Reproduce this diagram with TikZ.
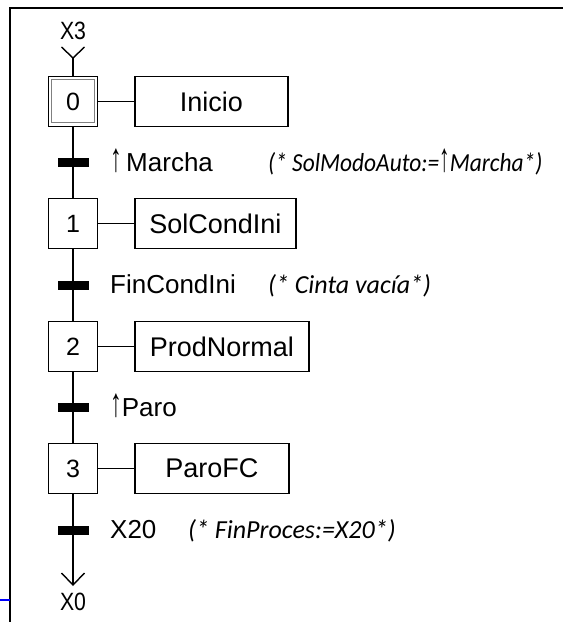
\documentclass[tikz,border=0pt]{standalone}
\usepackage{fontspec}
\setmainfont{Liberation Sans}
\newfontfamily\cmtfont{Carlito}
\usetikzlibrary{calc}
\newcommand{\uparr}{{\upshape\rmfamily\scalebox{0.9}[1.55]{↑}}}
\begin{document}
\begin{tikzpicture}[x=1pt,y=-1pt,
  stepbox/.style={draw,line width=1.6pt,minimum width=49pt,minimum height=50pt,inner sep=0pt,font=\fontsize{25}{30}\selectfont},
  actbox/.style={draw,line width=1.6pt,minimum height=50pt,inner sep=0pt,anchor=west,font=\fontsize{27}{32}\selectfont},
  tbar/.style={fill=black,minimum width=31pt,minimum height=9pt,inner sep=0pt},
  tlabel/.style={anchor=base west,inner sep=0pt,font=\fontsize{26}{30}\selectfont},
  cmt/.style={anchor=base west,inner sep=0pt,font=\cmtfont\itshape\fontsize{26}{30}\selectfont},
  conn/.style={line width=1.4pt},
  xlab/.style={inner sep=0pt,font=\fontsize{25}{30}\selectfont},
  ]
\useasboundingbox (0,0) rectangle (563,622);
% frame
\draw[line width=1.8pt] (10,622) -- (10,8) -- (563,8);
\draw[blue,line width=1.5pt] (0,600) -- (10,600);
% steps
\node[stepbox] (s0) at (73,101.5) {0};
\draw[gray,line width=1pt] ($(s0.south west)+(4,-5)$) rectangle ($(s0.north east)+(-4,4)$);
\node[stepbox] (s1) at (73,223.5) {1};
\node[stepbox] (s2) at (73,346.5) {2};
\node[stepbox] (s3) at (73,468.5) {3};
% actions
\node[actbox,minimum width=153pt] (a0) at (134,101.5) {Inicio};
\node[actbox,minimum width=161pt] (a1) at (134,223.5) {SolCondIni};
\node[actbox,minimum width=174pt] (a2) at (134,346.5) {ProdNormal};
\node[actbox,minimum width=154pt] (a3) at (134,468.5) {ParoFC};
\foreach \i in {0,1,2,3}{\draw[conn] (s\i.east) -- (a\i.west);}
% transitions
\node[tbar] (t1) at (73,162.5) {};
\node[tbar] (t2) at (73,285) {};
\node[tbar] (t3) at (73,407.5) {};
\node[tbar] (t4) at (73,530) {};
\draw[conn] (s0) -- (s1);
\draw[conn] (s1) -- (s2);
\draw[conn] (s2) -- (s3);
% labels
\node[tlabel] (l1) at (110,171) {\uparr\,Marcha};
\node[cmt] (c1) at (268,171) {\scalebox{0.9}[1]{(* SolModoAuto:=\uparr Marcha*)}};
\node[tlabel] (l2) at (110,293.5) {FinCondIni};
\node[cmt] (c2) at (268,293.5) {(* Cinta vacía*)};
\node[tlabel] (l3) at (110,416) {\uparr Paro};
\node[tlabel] (l4) at (110,538.5) {X20};
\node[cmt] (c4) at (188,538.5) {(* FinProces:=X20*)};
% entry / exit
\node[xlab] (x3) at (73,31) {\scalebox{0.85}[1]{X3}};
\coordinate (v3) at (73,58);
\draw[conn] ($(v3)+(-11.5,-11)$) -- (v3) -- ($(v3)+(11.5,-11)$);
\draw[conn] (v3) -- (s0);
\coordinate (v0) at (73,585);
\draw[conn] (s3) -- (v0);
\draw[conn] ($(v0)+(-11.5,-12)$) -- (v0) -- ($(v0)+(11.5,-12)$);
\node[xlab] (x0) at (73,602) {\scalebox{0.85}[1]{X0}};
\end{tikzpicture}
\end{document}
